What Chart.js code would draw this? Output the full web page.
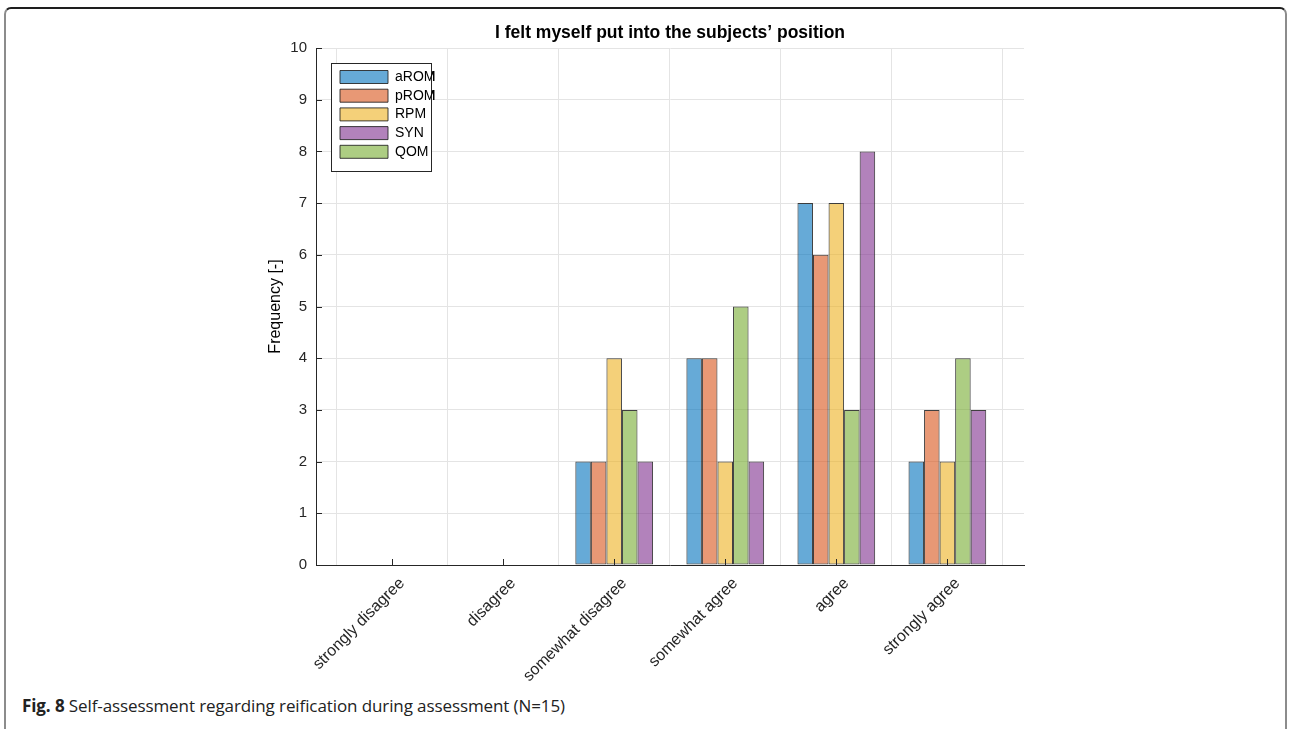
<!DOCTYPE html>
<html>
<head>
<meta charset="utf-8">
<script src="https://cdn.jsdelivr.net/npm/chart.js@4/dist/chart.umd.min.js"></script>
<style>
  html, body { margin: 0; padding: 0; background: #fff; width: 1290px; height: 729px; overflow: hidden; }
  #frame { position: absolute; left: 4px; top: 7px; width: 1283px; height: 760px;
           border: 2px solid #8c8c8c; border-top-color: #1e1e1e; border-radius: 7px; box-sizing: border-box; }
  #wrap { position: absolute; left: 0; top: 0; width: 1290px; height: 690px; }
  #caption { position: absolute; left: 22px; top: 694px; font-family: "Open Sans", "Noto Sans", sans-serif;
             font-size: 17px; color: #222; white-space: nowrap; letter-spacing: -0.1px; }
  #caption b { font-weight: 700; }
</style>
</head>
<body>
<div id="frame"></div>
<div id="wrap"><canvas id="c" width="1290" height="690"></canvas></div>
<div id="caption"><b>Fig. 8</b> Self-assessment regarding reification during assessment (N=15)</div>
<script>
// ---- data ----
const categories = ['strongly disagree', 'disagree', 'somewhat disagree', 'somewhat agree', 'agree', 'strongly agree'];
const aROM = [0, 0, 2, 4, 7, 2];
const pROM = [0, 0, 2, 4, 6, 3];
const RPM  = [0, 0, 4, 2, 7, 2];
const QOM  = [0, 0, 3, 5, 3, 4];
const SYN  = [0, 0, 2, 2, 8, 3];
const yTicks = [0, 1, 2, 3, 4, 5, 6, 7, 8, 9, 10];
const legendOrder = ['aROM', 'pROM', 'RPM', 'SYN', 'QOM'];

const seriesDefs = [
  { label: 'aROM', values: aROM, color: 'rgba(0,114,189,0.6)' },
  { label: 'pROM', values: pROM, color: 'rgba(217,83,25,0.6)' },
  { label: 'RPM',  values: RPM,  color: 'rgba(237,177,32,0.6)' },
  { label: 'QOM',  values: QOM,  color: 'rgba(119,172,48,0.6)' },
  { label: 'SYN',  values: SYN,  color: 'rgba(126,47,142,0.6)' }
];

const axisColor = '#262626';
const fontFam = '"Liberation Sans", Arial, Helvetica, sans-serif';

const datasets = seriesDefs.map(s => ({
  label: s.label,
  data: s.values.map((v, i) => ({ x: i + 1, y: v })),
  backgroundColor: s.color,
  borderColor: 'rgba(30,30,30,0.85)',
  borderWidth: 1,
  borderSkipped: false,
  categoryPercentage: 0.7,
  barPercentage: 1.0
}));

const LEG = { dx: 15, dy: 15, w: 100, h: 108, boxX: 9, boxY: 7 };

const legendFrame = {
  id: 'legendFrame',
  beforeDraw(chart) {
    const lg = chart.legend, ca = chart.chartArea;
    if (!lg) return;
    const p = lg.options.labels.padding;
    lg.left = ca.left + LEG.dx + LEG.boxX - p;
    lg.top = ca.top + LEG.dy + LEG.boxY - p;
    lg.right = lg.left + LEG.w;
    lg.bottom = lg.top + 200;
  },
  afterDatasetsDraw(chart) {
    const ctx = chart.ctx, ca = chart.chartArea;
    const x = ca.left + LEG.dx, y = ca.top + LEG.dy;
    ctx.save();
    ctx.fillStyle = '#ffffff';
    ctx.fillRect(x, y, LEG.w, LEG.h);
    ctx.strokeStyle = '#262626';
    ctx.lineWidth = 1;
    ctx.strokeRect(x + 0.5, y + 0.5, LEG.w, LEG.h);
    ctx.restore();
    chart.legend.draw(chart.chartArea);
  },
  afterDraw(chart) {
    // inward tick marks (MATLAB style)
    const ctx = chart.ctx, ca = chart.chartArea;
    const xs = chart.scales.x, ys = chart.scales.y;
    ctx.save();
    ctx.strokeStyle = axisColor;
    ctx.lineWidth = 1;
    ctx.beginPath();
    yTicks.forEach(v => {
      const py = Math.round(ys.getPixelForValue(v)) + 0.5;
      ctx.moveTo(ca.left, py); ctx.lineTo(ca.left + 6, py);
    });
    categories.forEach((c, i) => {
      const px = Math.round(xs.getPixelForValue(i + 1)) + 0.5;
      ctx.moveTo(px, ca.bottom); ctx.lineTo(px, ca.bottom - 6);
    });
    ctx.stroke();
    ctx.restore();
  }
};

new Chart(document.getElementById('c'), {
  type: 'bar',
  data: { datasets },
  options: {
    responsive: false,
    animation: false,
    devicePixelRatio: 1,
    layout: { padding: { left: 266, right: 266, top: 23, bottom: 2 } },
    plugins: {
      tooltip: { enabled: false },
      title: {
        display: true,
        fullSize: false,
        text: 'I felt myself put into the subjects\u2019 position',
        color: '#000',
        font: { family: fontFam, size: 17.5, weight: 'bold' },
        padding: { top: 0, bottom: 4 }
      },
      legend: {
        display: true,
        position: 'chartArea',
        align: 'start',
        labels: {
          boxWidth: 48,
          boxHeight: 13,
          padding: 4.7,
          color: '#000',
          font: { family: fontFam, size: 14 },
          sort: (a, b) => legendOrder.indexOf(a.text) - legendOrder.indexOf(b.text)
        }
      }
    },
    scales: {
      x: {
        type: 'linear',
        min: 0.315,
        max: 6.69,
        offset: false,
        afterBuildTicks: (s) => { s.ticks = categories.map((c, i) => ({ value: i + 1 })); },
        afterFit: (s) => { s.height = 123; },
        grid: { color: '#e4e4e4', drawTicks: false, lineWidth: 1 },
        border: { color: axisColor, width: 1 },
        ticks: {
          autoSkip: false,
          minRotation: 45,
          maxRotation: 45,
          padding: 9,
          labelOffset: 10,
          color: axisColor,
          font: { family: fontFam, size: 16 },
          callback: (v) => categories[Math.round(v) - 1]
        }
      },
      y: {
        min: 0,
        max: 10,
        afterBuildTicks: (s) => { s.ticks = yTicks.map(v => ({ value: v })); },
        afterFit: (s) => { s.width = 50; },
        grid: { color: '#e4e4e4', drawTicks: false, lineWidth: 1 },
        border: { color: axisColor, width: 1 },
        ticks: { padding: 9, color: axisColor, font: { family: fontFam, size: 15 } },
        title: {
          display: true,
          text: 'Frequency [-]',
          color: '#000',
          font: { family: fontFam, size: 16 },
          padding: { top: 0, bottom: 0 }
        }
      }
    }
  },
  plugins: [legendFrame]
});
</script>
</body>
</html>
